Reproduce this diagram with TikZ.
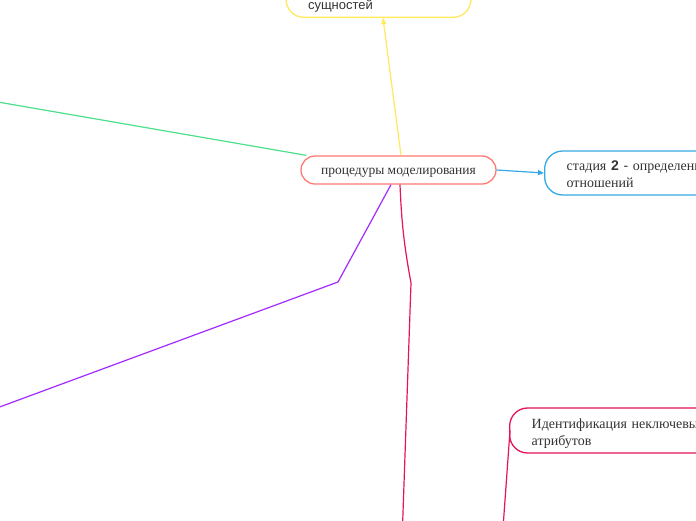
\documentclass[tikz,border=0pt]{standalone}
\usepackage{fontspec}
\setmainfont{Liberation Serif}
\setsansfont{Liberation Sans}
\usetikzlibrary{arrows.meta}
\definecolor{salmon}{HTML}{FF7A72}
\definecolor{mapyellow}{HTML}{FFE95C}
\definecolor{mapblue}{HTML}{35A9E6}
\definecolor{mapgreen}{HTML}{4CE08A}
\definecolor{mappurple}{HTML}{A32BFF}
\definecolor{mapcrimson}{HTML}{E5135A}
\definecolor{maptext}{HTML}{333333}
\newcommand{\topstrut}{\rule{0pt}{17.5pt}}
\tikzset{
    topic/.style={draw, line width=1.3pt, rounded corners=14pt, fill=white,
        text=maptext, font=\fontsize{13.5}{17}\selectfont},
    subtopic/.style={topic, rounded corners=18pt, align=left, anchor=west,
        text width=300pt, inner xsep=22pt, inner ysep=0pt,
        font=\fontsize{14}{17}\selectfont},
    branch/.style={line width=1.2pt},
    tip/.style={-{Triangle[length=6pt,width=5pt]}}
}
\begin{document}
\begin{tikzpicture}[x=1pt, y=-1pt]
            \useasboundingbox (0,0) rectangle (696,520);
            \fill[white] (0,0) rectangle (696,520);
            \clip (0,0) rectangle (696,520);
            % far ends of the branches, off the page
            \coordinate (gend) at (-60,92);
            \coordinate (pbend) at (338,282);
            \coordinate (pend) at (-60,429);
            \coordinate (cbend) at (411,283);
            \coordinate (cend) at (401,570);
            \coordinate (iroot) at (500,570);
            % nodes
            \node[topic, draw=salmon, minimum width=195pt, minimum height=28pt,
                  text height=9pt, text depth=0pt] (proc) at (398.5,170) {процедуры моделирования};
            \node[topic, draw=mapyellow, minimum width=185pt, anchor=south, rounded corners=18pt,
                  align=left, text width=141pt, inner ysep=3pt, font=\sffamily\fontsize{13}{17}\selectfont] (st1) at (378.5,18) {\strut\\сущностей\strut};
            \node[subtopic, draw=mapblue, minimum height=44pt] (st2) at (544,173) {\topstrut стадия {\sffamily\bfseries 2} {\sffamily -} определение\\отношений\strut};
            \node[subtopic, draw=mapcrimson, minimum height=45pt] (ident) at (509,430.5) {\topstrut Идентификация неключевых\\атрибутов\strut};
            % connectors
            \draw[branch, mapgreen] ([xshift=6pt]proc.north west) -- (gend);             % green
            \draw[branch, mapyellow, tip] ([xshift=2.5pt]proc.north) -- ([xshift=4.5pt]st1.south); % yellow
            \draw[branch, mapblue, tip] (proc.east) -- (st2.west);                     % blue
            \draw[branch, mappurple] ([xshift=-7.5pt]proc.south) -- (pbend) -- (pend);   % purple
            \draw[branch, mapcrimson] ([xshift=1.5pt]proc.south) to[bend right=4] (cbend) -- (cend); % crimson
            \draw[branch, mapcrimson] (iroot) -- ([xshift=1pt]ident.west);               % crimson child
        \end{tikzpicture}
\end{document}
